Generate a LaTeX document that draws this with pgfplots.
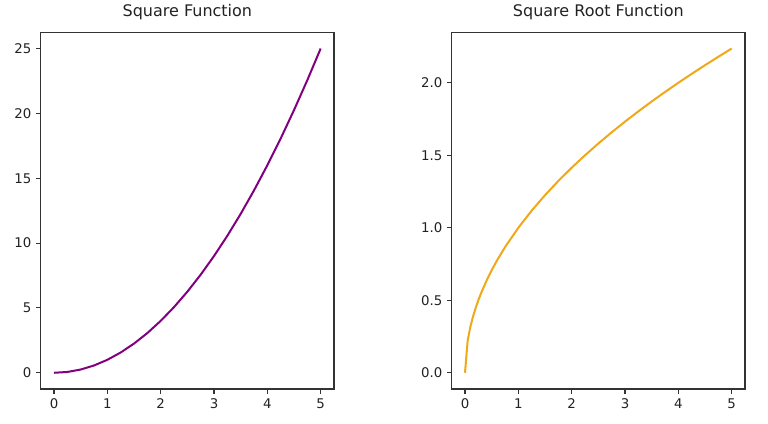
\documentclass[border=0pt]{standalone}
\usepackage{pgfplots}
\pgfplotsset{compat=1.18}
\usepackage{fontspec}
\setmainfont{DejaVu Sans}

\definecolor{sqpurple}{HTML}{800080}
\definecolor{rtorange}{RGB}{240,168,24}
\definecolor{txt}{HTML}{222222}

\pgfplotsset{
  panel/.style={
    scale only axis,
    width=220pt, height=267.5pt,
    axis line style={line width=0.8pt, black!80},
    tick align=outside,
    major tick length=3.5pt,
    tick style={line width=0.8pt, black!80},
    xtick pos=bottom, ytick pos=left,
    xmin=-0.25, xmax=5.25,
    xtick={0,1,2,3,4,5},
    ticklabel style={font=\fontsize{10}{12}\selectfont, text=txt},
    /pgf/number format/assume math mode=true,
    title style={at={(0.5,1)}, anchor=base, yshift=6pt,
      font=\fontsize{12}{14}\selectfont, text=txt},
  }
}

\begin{document}
\begin{tikzpicture}
\path[use as bounding box] (0,0) rectangle (576pt,318pt);

\begin{axis}[panel, at={(30.5pt,26.25pt)}, anchor=south west,
  title={Square Function},
  ymin=-1.25, ymax=26.25,
  ytick={0,5,10,15,20,25}]
\addplot[sqpurple, line width=1.5pt] coordinates {
  (0,0) (0.25,0.0625) (0.5,0.25) (0.75,0.5625) (1,1) (1.25,1.5625)
  (1.5,2.25) (1.75,3.0625) (2,4) (2.25,5.0625) (2.5,6.25) (2.75,7.5625)
  (3,9) (3.25,10.5625) (3.5,12.25) (3.75,14.0625) (4,16) (4.25,18.0625)
  (4.5,20.25) (4.75,22.5625) (5,25)
};
\end{axis}

\begin{axis}[panel, at={(338.75pt,26.25pt)}, anchor=south west,
  title={Square Root Function},
  ymin=-0.112, ymax=2.348,
  ytick={0,0.5,1,1.5,2},
  yticklabel style={/pgf/number format/.cd, fixed, fixed zerofill, precision=1}]
\addplot[rtorange, line width=1.5pt] coordinates {
  (0,0) (0.0505,0.2247) (0.1010,0.3178) (0.1515,0.3892) (0.2020,0.4495)
  (0.2525,0.5025) (0.3030,0.5505) (0.4040,0.6356) (0.5051,0.7107)
  (0.6061,0.7785) (0.7576,0.8704) (1.0101,1.0050) (1.25,1.1180)
  (1.5,1.2247) (1.75,1.3229) (2,1.4142) (2.25,1.5) (2.5,1.5811)
  (2.75,1.6583) (3,1.7321) (3.25,1.8028) (3.5,1.8708) (3.75,1.9365)
  (4,2) (4.25,2.0616) (4.5,2.1213) (4.75,2.1794) (5,2.2361)
};
\end{axis}
\end{tikzpicture}
\end{document}
